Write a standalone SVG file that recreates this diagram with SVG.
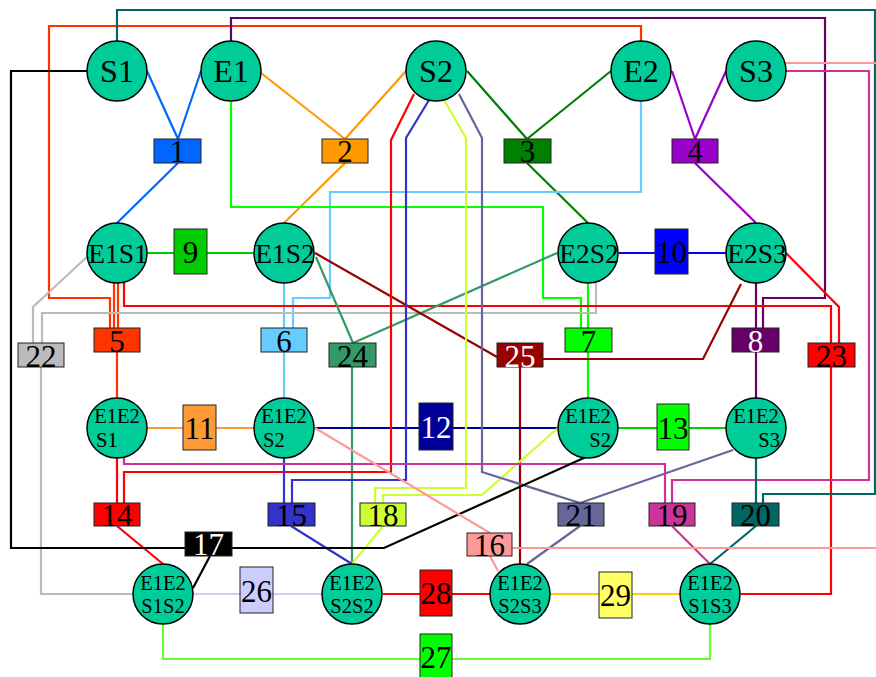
<svg xmlns="http://www.w3.org/2000/svg" width="876" height="677" viewBox="0 0 876 677">
<style>
.e{fill:none;stroke-width:2.2}
.n circle{fill:#00CC99;stroke:#000;stroke-width:1.5}
.n text{font-family:"Liberation Serif","Times New Roman",serif;fill:#000}
.t1{font-size:32px;text-anchor:middle}
.t2{font-size:27.5px;text-anchor:middle}
.t3{font-size:20.5px}
.b rect{stroke:#222;stroke-width:1}
.b text{font-family:"Liberation Serif","Times New Roman",serif;font-size:31px;text-anchor:middle;fill:#000}
.w text{fill:#fff}
</style>
<rect width="876" height="677" fill="#fff"/>
<g id="connectors">
<g class="e" stroke="#0066FF"><path d="M147,71L178,139M201,71L178,139M178,163L117,223"/></g>
<g class="e" stroke="#FF9900"><path d="M261,73L345,139M406,71L345,139M345,163L284,223"/></g>
<g class="e" stroke="#008000"><path d="M467,71L527,139M611,71L527,139M527,163L588,223"/></g>
<g class="e" stroke="#9900CC"><path d="M672,71L695,139M726,71L695,139M695,163L756,223"/></g>
<g class="e" stroke="#00CC00"><path d="M147,253H174M207,253H254"/></g>
<g class="e" stroke="#0000FF"><path d="M619,253H655M688,253H726"/></g>
<g class="e" stroke="#FF3300"><path d="M641,41V26H49V298H110V328M114,283V328M118,283V328M117,352V398"/></g>
<g class="e" stroke="#66CCFF"><path d="M284,283V328M641,101V192H330V298H293V328M284,352V398"/></g>
<g class="e" stroke="#00FF00"><path d="M231,101V207H543V298H581V328M588,283V328M588,352V398"/></g>
<g class="e" stroke="#660066"><path d="M231,41V18H825V298H763V328M756,283V328M756,352V398"/></g>
<g class="e" stroke="#BBBBBB"><path d="M89,255L33,307V343M596,283V313H42V343M41,367V594H133"/></g>
<g class="e" stroke="#FF0000"><path d="M124,283V306H831V343M786,253L839,307V343M831,367V594H741"/></g>
<g class="e" stroke="#339966"><path d="M316,257L353,343M557,253L353,343M352,367V564"/></g>
<g class="e" stroke="#990000"><path d="M315,253L497,357M741,284L703,359H543M520,367V564"/></g>
<g class="e" stroke="#FF9933"><path d="M147,428H183M216,428H255"/></g>
<g class="e" stroke="#000099"><path d="M315,428H419M453,428H558"/></g>
<g class="e" stroke="#00CC00"><path d="M618,428H657M689,428H726"/></g>
<g class="e" stroke="#FF0000"><path d="M117,458V503M414,94L391,140V472H124V503M117,526L163,564"/></g>
<g class="e" stroke="#3333CC"><path d="M284,458V503M429,100L406,138V480H292V503M291,526L352,564"/></g>
<g class="e" stroke="#CCFF33"><path d="M444,100L466,138V488H375V503M558,428L482,495H383V503M383,526L352,564"/></g>
<g class="e" stroke="#666699"><path d="M459,94L482,138V472L580,503M733,450L580,503M580,526L527,564"/></g>
<g class="e" stroke="#CC3399"><path d="M124,457V464H665V503M786,71H869V480H672V503M672,526L710,564"/></g>
<g class="e" stroke="#006666"><path d="M756,458V503M117,41V10H875V494H763V503M756,526L710,564"/></g>
<g class="e" stroke="#000000"><path d="M87,71H11V548H185M586,457L384,548H232M210,556L193,588"/></g>
<g class="e" stroke="#FF9999"><path d="M315,428L490,533M786,63H880V548H512M490,556L498,571"/></g>
<g class="e" stroke="#CCCCFF"><path d="M193,594H240M273,594H322"/></g>
<g class="e" stroke="#FF0000"><path d="M383,594H420M452,594H490"/></g>
<g class="e" stroke="#FFCC00"><path d="M551,594H599M632,594H680"/></g>
<g class="e" stroke="#66FF33"><path d="M163,624V659H420M452,659H710V624"/></g>
</g>
<g id="S1" class="n"><circle cx="117" cy="71" r="30"/><text class="t1" x="117" y="82">S1</text></g>
<g id="E1" class="n"><circle cx="231" cy="71" r="30"/><text class="t1" x="231" y="82">E1</text></g>
<g id="S2" class="n"><circle cx="436" cy="71" r="30"/><text class="t1" x="436" y="82">S2</text></g>
<g id="E2" class="n"><circle cx="641" cy="71" r="30"/><text class="t1" x="641" y="82">E2</text></g>
<g id="S3" class="n"><circle cx="756" cy="71" r="30"/><text class="t1" x="756" y="82">S3</text></g>
<g id="E1S1" class="n"><circle cx="117" cy="253" r="30"/><text class="t2" x="118" y="263">E1S1</text></g>
<g id="E1S2" class="n"><circle cx="284" cy="253" r="30"/><text class="t2" x="285" y="263">E1S2</text></g>
<g id="E2S2" class="n"><circle cx="588" cy="253" r="30"/><text class="t2" x="589" y="263">E2S2</text></g>
<g id="E2S3" class="n"><circle cx="756" cy="253" r="30"/><text class="t2" x="757" y="263">E2S3</text></g>
<g id="E1E2S1" class="n"><circle cx="117" cy="428" r="30"/><text class="t3" x="117" y="423" text-anchor="middle">E1E2</text><text class="t3" x="96" y="447">S1</text></g>
<g id="E1E2S2a" class="n"><circle cx="284" cy="428" r="30"/><text class="t3" x="284" y="423" text-anchor="middle">E1E2</text><text class="t3" x="263" y="447">S2</text></g>
<g id="E1E2S2b" class="n"><circle cx="588" cy="428" r="30"/><text class="t3" x="588" y="423" text-anchor="middle">E1E2</text><text class="t3" x="611" y="447" text-anchor="end">S2</text></g>
<g id="E1E2S3" class="n"><circle cx="756" cy="428" r="30"/><text class="t3" x="756" y="423" text-anchor="middle">E1E2</text><text class="t3" x="780" y="447" text-anchor="end">S3</text></g>
<g id="E1E2S1S2" class="n"><circle cx="163" cy="594" r="30"/><text class="t3" x="163" y="590" text-anchor="middle">E1E2</text><text class="t3" x="163" y="613" text-anchor="middle">S1S2</text></g>
<g id="E1E2S2S2" class="n"><circle cx="352" cy="594" r="30"/><text class="t3" x="352" y="590" text-anchor="middle">E1E2</text><text class="t3" x="352" y="613" text-anchor="middle">S2S2</text></g>
<g id="E1E2S2S3" class="n"><circle cx="520" cy="594" r="30"/><text class="t3" x="520" y="590" text-anchor="middle">E1E2</text><text class="t3" x="520" y="613" text-anchor="middle">S2S3</text></g>
<g id="E1E2S1S3" class="n"><circle cx="710" cy="594" r="30"/><text class="t3" x="710" y="590" text-anchor="middle">E1E2</text><text class="t3" x="710" y="613" text-anchor="middle">S1S3</text></g>
<g id="b1" class="b"><rect x="154" y="139" width="47" height="24" fill="#0066FF"/><text x="177.5" y="162">1</text></g>
<g id="b2" class="b"><rect x="322" y="139" width="46" height="24" fill="#FF9900"/><text x="345" y="162">2</text></g>
<g id="b3" class="b"><rect x="504" y="139" width="47" height="24" fill="#008000" stroke="#008000"/><text x="527.5" y="162">3</text></g>
<g id="b4" class="b"><rect x="672" y="139" width="46" height="24" fill="#9900CC"/><text x="695" y="162">4</text></g>
<g id="b9" class="b"><rect x="174" y="229" width="33" height="45" fill="#00CC00"/><text x="190.5" y="263">9</text></g>
<g id="b10" class="b"><rect x="655" y="229" width="33" height="45" fill="#0000FF"/><text x="671.5" y="263">10</text></g>
<g id="b5" class="b"><rect x="94" y="328" width="46" height="24" fill="#FF3300"/><text x="117" y="352">5</text></g>
<g id="b6" class="b"><rect x="261" y="328" width="46" height="24" fill="#66CCFF"/><text x="284" y="352">6</text></g>
<g id="b7" class="b"><rect x="565" y="328" width="47" height="24" fill="#00FF00" stroke="#00FF00"/><text x="588.5" y="352">7</text></g>
<g id="b8" class="b w"><rect x="732" y="328" width="47" height="24" fill="#660066" stroke="#660066"/><text x="755.5" y="352">8</text></g>
<g id="b22" class="b"><rect x="18" y="343" width="46" height="24" fill="#BBBBBB"/><text x="41" y="367">22</text></g>
<g id="b24" class="b"><rect x="329" y="343" width="47" height="24" fill="#339966"/><text x="352.5" y="367">24</text></g>
<g id="b25" class="b w"><rect x="497" y="343" width="46" height="24" fill="#990000"/><text x="520" y="367">25</text></g>
<g id="b23" class="b"><rect x="808" y="343" width="47" height="24" fill="#FF0000" stroke="#FF0000"/><text x="831.5" y="367">23</text></g>
<g id="b11" class="b"><rect x="183" y="405" width="33" height="45" fill="#FF9933"/><text x="199.5" y="439">11</text></g>
<g id="b12" class="b w"><rect x="419" y="403" width="34" height="47" fill="#000099" stroke="#000099"/><text x="436" y="438">12</text></g>
<g id="b13" class="b"><rect x="657" y="404" width="32" height="46" fill="#00FF00"/><text x="673" y="439">13</text></g>
<g id="b14" class="b"><rect x="94" y="503" width="46" height="23" fill="#FF0000"/><text x="117" y="526">14</text></g>
<g id="b15" class="b"><rect x="268" y="503" width="47" height="23" fill="#3333CC"/><text x="291.5" y="526">15</text></g>
<g id="b18" class="b"><rect x="360" y="503" width="46" height="23" fill="#CCFF33"/><text x="383" y="526">18</text></g>
<g id="b21" class="b"><rect x="558" y="503" width="46" height="23" fill="#666699"/><text x="581" y="526">21</text></g>
<g id="b19" class="b"><rect x="649" y="503" width="46" height="23" fill="#CC3399"/><text x="672" y="526">19</text></g>
<g id="b20" class="b"><rect x="732" y="503" width="47" height="23" fill="#006666"/><text x="755.5" y="526">20</text></g>
<g id="b17" class="b w"><rect x="185" y="532" width="47" height="24" fill="#000000"/><text x="208.5" y="555">17</text></g>
<g id="b16" class="b"><rect x="467" y="533" width="45" height="23" fill="#FF9999"/><text x="489.5" y="556">16</text></g>
<g id="b26" class="b"><rect x="240" y="567" width="33" height="46" fill="#CCCCFF"/><text x="256.5" y="602">26</text></g>
<g id="b28" class="b"><rect x="420" y="570" width="32" height="46" fill="#FF0000"/><text x="436" y="604">28</text></g>
<g id="b29" class="b"><rect x="599" y="572" width="33" height="46" fill="#FFFF66" stroke="#FFCC00"/><text x="615.5" y="606">29</text></g>
<g id="b27" class="b"><rect x="420" y="634" width="32" height="46" fill="#00FF00"/><text x="436" y="668">27</text></g>
</svg>
